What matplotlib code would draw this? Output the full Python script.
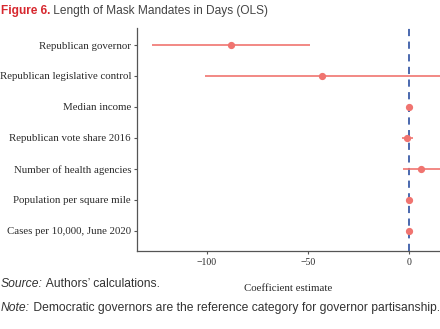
import matplotlib
matplotlib.use("Agg")
import matplotlib.pyplot as plt

# coefficient estimates (days)
terms = ["Republican governor", "Republican legislative control", "Median income",
         "Republican vote share 2016", "Number of health agencies",
         "Population per square mile", "Cases per 10,000, June 2020"]
estimate = [-88, -43, 0, -1, 6, 0, 0]
ci_low = [-127, -101, 0, -3.6, -2.8, 0, 0]
ci_high = [-49, 20, 0, 1.8, 20, 0, 0]
xticks = [-100, -50, 0]

red = "#F07470"
blue = "#3B5DA8"
grey = "#555555"
serif = "Liberation Serif"

fig = plt.figure(figsize=(4.4, 3.29), dpi=100)
ax = fig.add_axes([0.311, 0.237, 0.689, 0.678])

ypos = list(range(len(terms)))
ax.axvline(0, color=blue, ls=(0, (4, 3)), lw=1.3, zorder=1)
ax.hlines(ypos, ci_low, ci_high, color=red, lw=1.2, zorder=2)
ax.plot(estimate, ypos, "o", color=red, ms=4.2, zorder=3)

ax.set_xlim(-134.7, 15.3)
ax.set_ylim(6.65, -0.55)
ax.set_yticks(ypos)
ax.set_yticklabels(terms, fontfamily=serif, fontsize=7.5, color="#2a2a2a")
ax.set_xticks(xticks)
ax.set_xticklabels(["\u2212100", "\u221250", "0"], fontfamily=serif, fontsize=7, color="#2a2a2a")
ax.set_xlabel("Coefficient estimate", fontfamily=serif, fontsize=7.5, color="#2a2a2a", labelpad=12)
ax.tick_params(axis="both", length=2.2, width=0.8, color=grey, pad=2)
ax.tick_params(axis="x", pad=3)
for s in ["top", "right"]:
    ax.spines[s].set_visible(False)
for s in ["left", "bottom"]:
    ax.spines[s].set_color(grey)
    ax.spines[s].set_linewidth(0.9)

# shrink the y labels so the longest one fits left of the axis
fig.canvas.draw()
r = fig.canvas.get_renderer()
labs = ax.get_yticklabels()
widest = max(lab.get_window_extent(r).width for lab in labs)
room = min(lab.get_window_extent(r).x1 for lab in labs) - 1
size = 7.5 * room / widest
for lab in labs:
    lab.set_fontsize(size)
ax.xaxis.label.set_fontsize(size)

# title and footer
t = fig.text(0.002, 0.968, "Figure 6.", fontsize=8.6, fontweight="bold", color="#D7282F",
             family="Liberation Sans", va="center")
ax.annotate(" Length of Mask Mandates in Days (OLS)", xy=(1, 0.5), xycoords=t, va="center",
            fontsize=8.6, color="#444444", family="Liberation Sans", annotation_clip=False)

s = fig.text(0.002, 0.138, "Source:", fontsize=8.75, style="italic", color="#333333",
             family="Liberation Sans", va="center")
ax.annotate(" Authors\u2019 calculations.", xy=(1, 0.5), xycoords=s, va="center",
            fontsize=8.75, color="#333333", family="Liberation Sans", annotation_clip=False)
n = fig.text(0.002, 0.063, "Note:", fontsize=8.75, style="italic", color="#333333",
             family="Liberation Sans", va="center")
ax.annotate(" Democratic governors are the reference category for governor partisanship.",
            xy=(1, 0.5), xycoords=n, va="center", fontsize=8.75, color="#333333",
            family="Liberation Sans", annotation_clip=False)

fig.savefig("out.png", dpi=100)
